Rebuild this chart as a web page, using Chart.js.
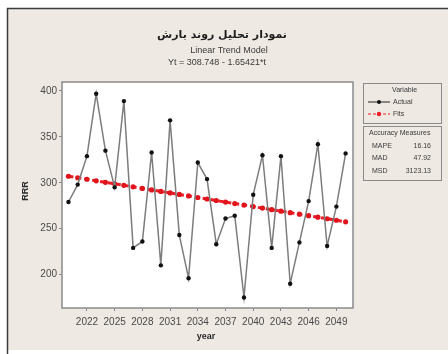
<!DOCTYPE html>
<html>
<head>
<meta charset="utf-8">
<script src="https://cdn.jsdelivr.net/npm/chart.js@4.4.1/dist/chart.umd.min.js"></script>
<style>
  html, body { margin: 0; padding: 0; background: #ffffff; }
  #wrap { width: 448px; height: 354px; position: relative; }
  canvas { display: block; }
</style>
</head>
<body>
<div id="wrap"><canvas id="chart" width="448" height="354"></canvas></div>
<script>
// Annual rainfall series and its linear trend (Yt = 308.748 - 1.65421*t)
const years = [2020, 2021, 2022, 2023, 2024, 2025, 2026, 2027, 2028, 2029,
               2030, 2031, 2032, 2033, 2034, 2035, 2036, 2037, 2038, 2039,
               2040, 2041, 2042, 2043, 2044, 2045, 2046, 2047, 2048, 2049, 2050];
const actual = [279, 298, 329, 397, 335, 295, 389, 229, 236, 333,
                210, 368, 243, 196, 322, 304, 233, 261, 264, 175,
                287, 330, 229, 329, 190, 235, 280, 342, 231, 274, 332];
const fits = [307.09, 305.44, 303.79, 302.13, 300.48, 298.82, 297.17, 295.51, 293.86, 292.21,
              290.55, 288.90, 287.24, 285.59, 283.94, 282.28, 280.63, 278.97, 277.32, 275.66,
              274.01, 272.36, 270.70, 269.05, 267.39, 265.74, 264.08, 262.43, 260.78, 259.12, 257.47];
const xTickYears = [2022, 2025, 2028, 2031, 2034, 2037, 2040, 2043, 2046, 2049];
const yTickValues = [200, 250, 300, 350, 400];
const seriesNames = ['Actual', 'Fits'];
const accuracyLabels = ['MAPE', 'MAD', 'MSD'];
const accuracyValues = ['16.16', '47.92', '3123.13'];

const titleText = 'نمودار تحلیل روند بارش';
const subTitle1 = 'Linear Trend Model';
const subTitle2 = 'Yt = 308.748 - 1.65421*t';

const BG = '#eee9e2';
const TXT = '#3a3a3a';

const toPoints = (vals) => years.map((y, i) => ({ x: y, y: vals[i] }));

const decor = {
  id: 'decor',
  beforeDraw(chart) {
    const { ctx, chartArea: a } = chart;
    ctx.save();
    ctx.fillStyle = '#ffffff';
    ctx.fillRect(0, 0, chart.width, chart.height);
    ctx.fillStyle = BG;
    ctx.fillRect(8, 9, chart.width - 8, 341);
    ctx.strokeStyle = '#3b3b3b';
    ctx.lineWidth = 1.5;
    ctx.beginPath();
    ctx.moveTo(7.5, chart.height);
    ctx.lineTo(7.5, 8.5);
    ctx.lineTo(chart.width, 8.5);
    ctx.stroke();
    ctx.fillStyle = '#ffffff';
    ctx.fillRect(a.left, a.top, a.right - a.left, a.bottom - a.top);
    ctx.restore();
  },
  afterDraw(chart) {
    const { ctx, chartArea: a } = chart;
    ctx.save();
    // plot frame
    ctx.strokeStyle = '#8a8a8a';
    ctx.lineWidth = 1.5;
    ctx.strokeRect(a.left, a.top, a.right - a.left, a.bottom - a.top);

    // titles
    ctx.fillStyle = '#1e1e1e';
    ctx.textBaseline = 'middle';
    ctx.textAlign = 'center';
    ctx.font = 'bold 11px "DejaVu Sans"';
    ctx.fillText(titleText, 222, 35);
    ctx.fillStyle = TXT;
    ctx.font = '9px "Liberation Sans"';
    ctx.fillText(subTitle1, 229, 51);
    ctx.fillText(subTitle2, 217, 63);

    // axis titles
    ctx.fillStyle = '#2a2a2a';
    ctx.font = 'bold 9px "Liberation Sans"';
    ctx.fillText('year', 206, 337);
    ctx.save();
    ctx.translate(26, 191);
    ctx.rotate(-Math.PI / 2);
    ctx.fillText('RRR', 0, 0);
    ctx.restore();

    // legend box
    ctx.strokeStyle = '#8a8a8a';
    ctx.lineWidth = 1;
    ctx.strokeRect(363.5, 83.5, 78, 40);
    ctx.strokeRect(363.5, 126.5, 78, 54);
    ctx.fillStyle = TXT;
    ctx.font = '7px "Liberation Sans"';
    ctx.textAlign = 'left';
    ctx.fillText('Variable', 392, 90);
    ctx.fillText(seriesNames[0], 393, 102);
    ctx.fillText(seriesNames[1], 393, 114);
    // series swatches
    ctx.strokeStyle = '#222';
    ctx.lineWidth = 1;
    ctx.beginPath(); ctx.moveTo(368, 102); ctx.lineTo(390, 102); ctx.stroke();
    ctx.fillStyle = '#111';
    ctx.beginPath(); ctx.arc(379, 102, 2, 0, Math.PI * 2); ctx.fill();
    ctx.strokeStyle = '#ee1c24';
    ctx.setLineDash([3, 2]);
    ctx.beginPath(); ctx.moveTo(368, 114); ctx.lineTo(390, 114); ctx.stroke();
    ctx.setLineDash([]);
    ctx.fillStyle = '#ee1c24';
    ctx.beginPath(); ctx.arc(379, 114, 2.2, 0, Math.PI * 2); ctx.fill();

    // accuracy measures
    ctx.fillStyle = TXT;
    ctx.fillText('Accuracy Measures', 369, 133.5);
    accuracyLabels.forEach((lab, i) => {
      const y = 146 + i * 12.3;
      ctx.textAlign = 'left';
      ctx.fillText(lab, 372, y);
      ctx.textAlign = 'right';
      ctx.fillText(accuracyValues[i], 431, y);
    });
    ctx.restore();
  }
};

new Chart(document.getElementById('chart'), {
  type: 'line',
  data: {
    datasets: [
      {
        label: seriesNames[0],
        data: toPoints(actual),
        borderColor: '#7d7d7d',
        borderWidth: 1.5,
        pointRadius: 2.2,
        pointBackgroundColor: '#111',
        pointBorderColor: '#111',
        pointBorderWidth: 0,
        tension: 0
      },
      {
        label: seriesNames[1],
        data: toPoints(fits),
        borderColor: '#ee1c24',
        borderWidth: 3,
        borderDash: [5, 3],
        pointRadius: 2.6,
        pointBackgroundColor: '#e0141c',
        pointBorderColor: '#e0141c',
        pointBorderWidth: 0,
        tension: 0
      }
    ]
  },
  options: {
    responsive: false,
    animation: false,
    devicePixelRatio: 1,
    layout: { padding: { left: 0, top: 82, right: 95, bottom: 0 } },
    plugins: { legend: { display: false }, title: { display: false }, tooltip: { enabled: false } },
    scales: {
      x: {
        type: 'linear',
        min: 2019.3,
        max: 2050.8,
        afterBuildTicks: (s) => { s.ticks = xTickYears.map(v => ({ value: v })); },
        afterFit: (s) => { s.height = 46; },
        border: { display: false },
        grid: { drawOnChartArea: false, drawTicks: true, tickLength: 3, color: '#8a8a8a', lineWidth: 1 },
        ticks: {
          padding: 5,
          maxRotation: 0,
          autoSkip: false,
          color: '#4a4a4a',
          font: { family: 'Liberation Sans', size: 10 },
          callback: (v) => String(v)
        }
      },
      y: {
        type: 'linear',
        min: 163.5,
        max: 409.8,
        afterBuildTicks: (s) => { s.ticks = yTickValues.map(v => ({ value: v })); },
        afterFit: (s) => { s.width = 62; },
        border: { display: false },
        grid: { drawOnChartArea: false, drawTicks: true, tickLength: 3, color: '#8a8a8a', lineWidth: 1 },
        ticks: {
          padding: 2,
          color: '#4a4a4a',
          font: { family: 'Liberation Sans', size: 10 },
          callback: (v) => String(v)
        }
      }
    }
  },
  plugins: [decor]
});
</script>
</body>
</html>
